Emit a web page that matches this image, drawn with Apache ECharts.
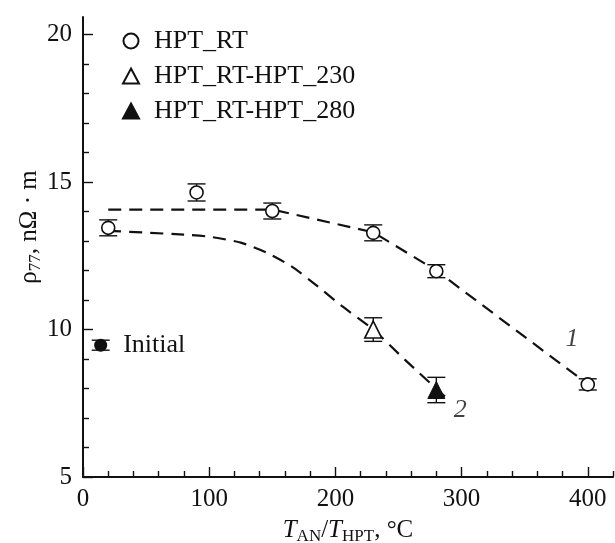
<!DOCTYPE html>
<html>
<head>
<meta charset="utf-8">
<script src="https://cdn.jsdelivr.net/npm/echarts@6/dist/echarts.min.js"></script>
<style>
html, body { margin: 0; padding: 0; background: #fff; }
#main { width: 615px; height: 543px; }
</style>
</head>
<body>
<div id="main"></div>
<script>
// HPT_RT points (x, value, error)
var rtX = [20, 90, 150, 230, 280, 400];
var rtY = [13.45, 14.65, 14.02, 13.28, 11.98, 8.14];
var rtErr = [0.27, 0.29, 0.27, 0.27, 0.22, 0.19];

// annealed after HPT_RT
var an230X = [230], an230Y = [10.0], an230Err = [0.4];
var an280X = [280], an280Y = [7.95], an280Err = [0.43];

// initial state
var initX = [14], initY = [9.47], initErr = [0.17];

// dashed guide curves 1 and 2
var curve1 = [[20, 14.07], [150, 14.07], [230, 13.3], [280, 12.0], [400, 8.15]];
var curve2 = [[20, 13.35], [80, 13.22], [100, 13.15], [125, 12.95], [145, 12.62], [165, 12.15],
              [185, 11.5], [205, 10.8], [230, 10.0], [255, 8.98], [288, 7.68]];
var curveNames = ['1', '2'];
var curveLabelPos = [[387.5, 9.68], [299, 7.27]];

// ticks
var xMajor = [0, 100, 200, 300, 400];
var xMinor = [20, 40, 60, 80, 120, 140, 160, 180, 220, 240, 260, 280, 320, 340, 360, 380, 420];
var yMajor = [5, 10, 15, 20];
var yMinor = [6, 7, 8, 9, 11, 12, 13, 14, 16, 17, 18, 19];

var FONT = '"Liberation Serif", "Times New Roman", serif';
var INK = '#111';

function pts(xs, ys) {
    var out = [];
    for (let i = 0; i < xs.length; i++) out.push([xs[i], ys[i]]);
    return out;
}
function bars(xs, ys, es) {
    var out = [];
    for (let i = 0; i < xs.length; i++) out.push([xs[i], ys[i] - es[i], ys[i] + es[i]]);
    return out;
}

function errorSeries(data) {
    return {
        type: 'custom',
        silent: true,
        z: 2,
        encode: { x: 0, y: [1, 2] },
        data: data,
        renderItem: function (params, api) {
            var x = api.value(0);
            var top = api.coord([x, api.value(2)]);
            var bot = api.coord([x, api.value(1)]);
            var w = 9;
            var st = { stroke: INK, lineWidth: 1.4 };
            return {
                type: 'group',
                children: [
                    { type: 'line', shape: { x1: top[0], y1: top[1], x2: bot[0], y2: bot[1] }, style: st },
                    { type: 'line', shape: { x1: top[0] - w, y1: top[1], x2: top[0] + w, y2: top[1] }, style: st },
                    { type: 'line', shape: { x1: bot[0] - w, y1: bot[1], x2: bot[0] + w, y2: bot[1] }, style: st }
                ]
            };
        }
    };
}

var labelData = [];
for (let i = 0; i < curveNames.length; i++) {
    labelData.push({ name: curveNames[i], value: curveLabelPos[i] });
}

var myChart = echarts.init(document.getElementById('main'));

var option = {
    animation: false,
    backgroundColor: '#fff',
    textStyle: { fontFamily: FONT, color: INK },
    grid: { left: 83, right: 2, top: 17, bottom: 66, outerBoundsMode: 'none', containLabel: false },
    legend: {
        data: ['HPT_RT', 'HPT_RT-HPT_230', 'HPT_RT-HPT_280'],
        orient: 'vertical',
        left: 117,
        top: 23,
        itemWidth: 16,
        itemHeight: 15,
        itemGap: 9,
        selectedMode: false,
        textStyle: { fontFamily: FONT, fontSize: 26, color: INK, padding: [0, 0, 0, 10] }
    },
    xAxis: [
        {
            type: 'value', min: 0, max: 420,
            axisLine: { lineStyle: { color: INK, width: 2 } },
            axisTick: { inside: true, length: 6, customValues: xMinor, lineStyle: { color: INK, width: 1.4 } },
            axisLabel: { show: false },
            splitLine: { show: false }
        },
        {
            type: 'value', min: 0, max: 420, position: 'bottom',
            axisLine: { show: false },
            axisTick: { inside: true, length: 10, customValues: xMajor, lineStyle: { color: INK, width: 1.4 } },
            axisLabel: { customValues: xMajor, fontFamily: FONT, fontSize: 25, color: INK, margin: 10 },
            splitLine: { show: false },
            name: '{i|T}{s|AN}/{i|T}{s|HPT}, °C',
            nameLocation: 'middle',
            nameGap: 39,
            nameTextStyle: {
                fontFamily: FONT, fontSize: 25, color: INK,
                rich: {
                    i: { fontFamily: FONT, fontSize: 25, fontStyle: 'italic', color: INK },
                    s: { fontFamily: FONT, fontSize: 17, color: INK, verticalAlign: 'bottom', padding: [12, 0, 0, 0] }
                }
            }
        }
    ],
    yAxis: [
        {
            type: 'value', min: 5, max: 20.6,
            axisLine: { lineStyle: { color: INK, width: 2 } },
            axisTick: { inside: true, length: 6, customValues: yMinor, lineStyle: { color: INK, width: 1.4 } },
            axisLabel: { show: false },
            splitLine: { show: false }
        },
        {
            type: 'value', min: 5, max: 20.6, position: 'left',
            axisLine: { show: false },
            axisTick: { inside: true, length: 10, customValues: yMajor, lineStyle: { color: INK, width: 1.4 } },
            axisLabel: { customValues: yMajor, fontFamily: FONT, fontSize: 25, color: INK, margin: 11 },
            splitLine: { show: false },
            name: 'ρ{s|77}, nΩ · m',
            nameLocation: 'middle',
            nameGap: 39,
            nameMoveOverlap: false,
            nameTextStyle: {
                fontFamily: FONT, fontSize: 25, color: INK, padding: [0, 0, 0, 40],
                rich: {
                    s: { fontFamily: FONT, fontSize: 17, color: INK, verticalAlign: 'bottom', padding: [12, 0, 0, 0] }
                }
            }
        }
    ],
    series: [
        {
            name: 'curve1', type: 'line', data: curve1, symbol: 'none', z: 1, silent: true,
            lineStyle: { color: INK, width: 2.2, type: [13, 8] }
        },
        {
            name: 'curve2', type: 'line', data: curve2, symbol: 'none', z: 1, silent: true, smooth: 0.2,
            lineStyle: { color: INK, width: 2.2, type: [13, 8] }
        },
        errorSeries(bars(rtX, rtY, rtErr)),
        errorSeries(bars(an230X, an230Y, an230Err)),
        errorSeries(bars(an280X, an280Y, an280Err)),
        errorSeries(bars(initX, initY, initErr)),
        {
            name: 'HPT_RT', type: 'scatter', data: pts(rtX, rtY), symbol: 'circle', symbolSize: 13, z: 3,
            itemStyle: { color: '#fff', borderColor: INK, borderWidth: 1.6, opacity: 1 }
        },
        {
            name: 'HPT_RT-HPT_230', type: 'scatter', data: pts(an230X, an230Y), symbol: 'triangle', symbolSize: 17, z: 3,
            itemStyle: { color: '#fff', borderColor: INK, borderWidth: 1.6, opacity: 1 }
        },
        {
            name: 'HPT_RT-HPT_280', type: 'scatter', data: pts(an280X, an280Y), symbol: 'triangle', symbolSize: 17, z: 3,
            itemStyle: { color: INK, borderColor: INK, borderWidth: 1, opacity: 1 }
        },
        {
            name: 'Initial', type: 'scatter', data: pts(initX, initY), symbol: 'circle', symbolSize: 13, z: 3,
            itemStyle: { color: INK, opacity: 1 },
            label: { show: true, position: 'right', distance: 16, formatter: 'Initial',
                     fontFamily: FONT, fontSize: 26, color: INK }
        },
        {
            name: 'labels', type: 'scatter', data: labelData, symbolSize: 0, z: 4, silent: true,
            label: { show: true, position: 'inside', formatter: '{b}',
                     fontFamily: FONT, fontSize: 26, fontStyle: 'italic', color: INK }
        }
    ]
};

option && myChart.setOption(option);
</script>
</body>
</html>
